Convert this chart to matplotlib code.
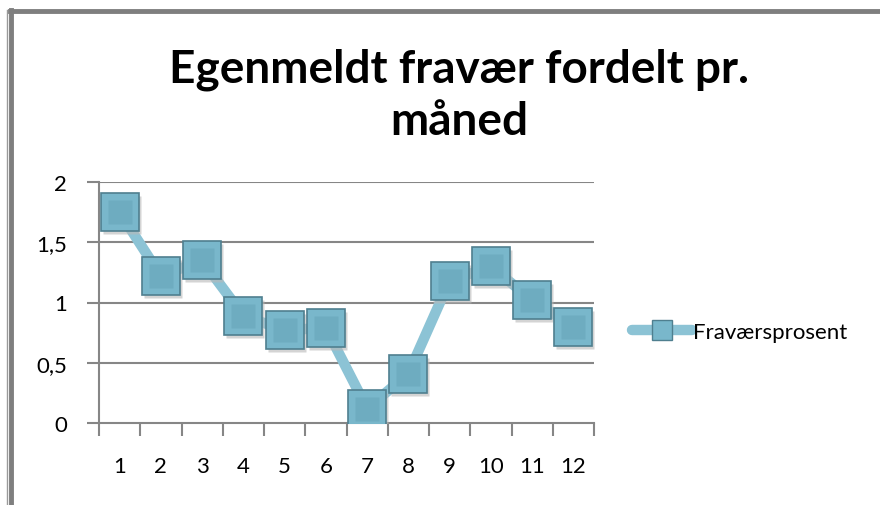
import matplotlib
matplotlib.use("Agg")
import matplotlib.pyplot as plt
import matplotlib.transforms as mtransforms
from matplotlib.lines import Line2D

# data
months = [1, 2, 3, 4, 5, 6, 7, 8, 9, 10, 11, 12]
fravaer = [1.75, 1.22, 1.35, 0.89, 0.77, 0.79, 0.12, 0.41, 1.18, 1.30, 1.02, 0.80]
yticks = [0, 0.5, 1, 1.5, 2]
ylabels = ["0", "0,5", "1", "1,5", "2"]
series_name = "Fraværsprosent"
title = "Egenmeldt fravær fordelt pr.\nmåned"

plt.rcParams['font.family'] = ['Lato', 'DejaVu Sans']

line_col = '#8cc3d5'
face_col = '#79b7cb'
inner_col = '#6eacc0'
edge_col = '#4f7f8f'
grid_col = '#868686'

fig = plt.figure(figsize=(8.8, 5.06), dpi=100)
ax = fig.add_axes([99 / 880, 82 / 506, 495 / 880, 241 / 506])

ax.set_xlim(0.5, 12.5)
ax.set_ylim(0, 2)

# gridlines
for yv in yticks[1:]:
    ax.axhline(yv, color=grid_col, lw=1.5, zorder=1)

ax.plot(months, fravaer, color=line_col, lw=7.5, solid_capstyle='round', zorder=2)

# shadow behind the markers
shadow = mtransforms.offset_copy(ax.transData, fig=fig, x=2, y=-3, units='dots')
ax.plot(months, fravaer, 's', ms=27.5, mfc='#b8b8b8', mec='none', alpha=0.6,
        transform=shadow, zorder=3)
ax.plot(months, fravaer, 's', ms=27.5, mfc=face_col, mec=edge_col, mew=1.2, zorder=4)
ax.plot(months, fravaer, 's', ms=17, mfc=inner_col, mec='none', zorder=5)

ax.set_yticks(yticks)
ax.set_yticklabels(ylabels)
ax.set_xticks(months)
ax.set_xticklabels([str(m) for m in months])
ax.set_xticks([m + 0.5 for m in [0] + months], minor=True)
ax.tick_params(axis='x', which='major', length=0, pad=24, labelsize=16)
ax.tick_params(axis='x', which='minor', length=9, width=1.5, color=grid_col, direction='out')
ax.tick_params(axis='y', length=9, width=1.5, color=grid_col, pad=14, labelsize=16)

for s in ['top', 'right']:
    ax.spines[s].set_visible(False)
for s in ['left', 'bottom']:
    ax.spines[s].set_color(grid_col)
    ax.spines[s].set_linewidth(1.5)

fig.text(0.522, 0.905, title, ha='center', va='top', fontsize=33, fontweight='bold',
         linespacing=1.3)

# legend
leg_handle = Line2D([0], [0], color=line_col, lw=7.5, marker='s', ms=14,
                    mfc=face_col, mec=edge_col, solid_capstyle='round')
fig.legend([leg_handle], [series_name], loc='center left',
           bbox_to_anchor=(612 / 880, 1 - 333 / 506), frameon=False,
           fontsize=16, handlelength=2.7, handletextpad=0.05)

# frame of the chart area
fig.add_artist(Line2D([10 / 880, 1], [1 - 12 / 506, 1 - 12 / 506], color='#7f7f7f', lw=3.5))
fig.add_artist(Line2D([11 / 880, 11 / 880], [0, 1 - 11 / 506], color='#7f7f7f', lw=3.5))
fig.add_artist(Line2D([7 / 880, 7 / 880], [0, 1 - 11 / 506], color='#9a9a9a', lw=1))

fig.savefig('out.png', dpi=100)
